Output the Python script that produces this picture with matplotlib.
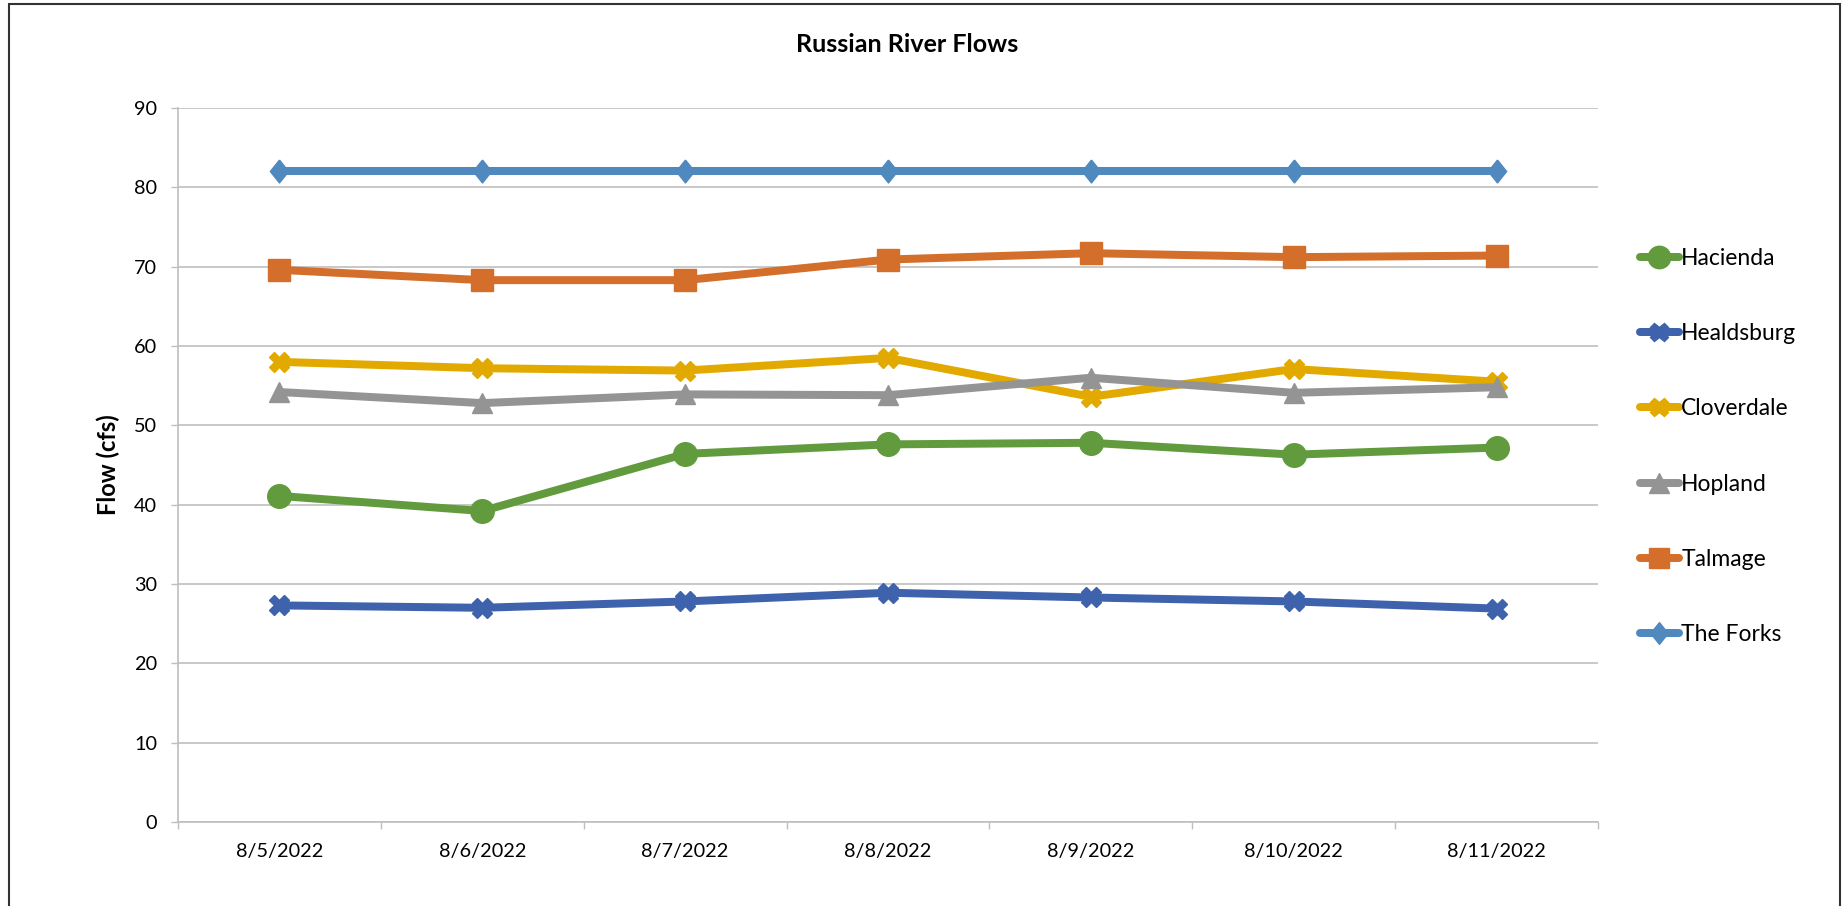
import matplotlib
matplotlib.use("Agg")
import matplotlib.pyplot as plt
from matplotlib.patches import Rectangle
from matplotlib.path import Path

plt.rcParams['font.family'] = ['Lato', 'DejaVu Sans']

dates = ["8/5/2022", "8/6/2022", "8/7/2022", "8/8/2022",
         "8/9/2022", "8/10/2022", "8/11/2022"]

hacienda = [41.1, 39.2, 46.4, 47.6, 47.8, 46.3, 47.2]
healdsburg = [27.3, 27.0, 27.8, 28.9, 28.3, 27.8, 26.9]
cloverdale = [58.0, 57.2, 56.9, 58.5, 53.6, 57.1, 55.5]
hopland = [54.2, 52.8, 53.9, 53.8, 56.0, 54.1, 54.8]
talmage = [69.6, 68.3, 68.3, 70.9, 71.7, 71.2, 71.4]
the_forks = [82, 82, 82, 82, 82, 82, 82]

names = ["Hacienda", "Healdsburg", "Cloverdale", "Hopland", "Talmage", "The Forks"]
series = [hacienda, healdsburg, cloverdale, hopland, talmage, the_forks]

# excel-ish look
diamond = Path([(0, 1), (0.8, 0), (0, -1), (-0.8, 0), (0, 1)])
colors = ["#629B3E", "#3F62AD", "#E2AA00", "#949494", "#D46E2B", "#4F89BD"]
markers = ["o", "X", "X", "^", "s", diamond]
msizes = [17, 14, 14, 15, 15.5, 16.5]

fig = plt.figure(figsize=(18.49, 9.06), dpi=100)
ax = fig.add_axes([178 / 1849, 1 - 822 / 906, (1598 - 178) / 1849, (822 - 108) / 906])

x = list(range(len(dates)))
for name, vals, c, m, ms in zip(names, series, colors, markers, msizes):
    ax.plot(x, vals, color=c, lw=5.75, marker=m, markersize=ms,
            markeredgecolor=c, markerfacecolor=c, label=name,
            solid_joinstyle="round", solid_capstyle="round")

ax.set_xlim(-0.5, len(dates) - 0.5)
ax.set_ylim(0, 90)
ax.set_yticks(range(0, 91, 10))
ax.set_xticks([i - 0.5 for i in range(len(dates) + 1)])
ax.set_xticklabels([])
ax.set_xticks(x, minor=True)
ax.set_xticklabels(dates, minor=True)
ax.tick_params(axis="x", which="major", length=5, color="#BFBFBF", width=1)
ax.tick_params(axis="x", which="minor", length=0, pad=15, labelsize=14.3)
ax.tick_params(axis="y", length=5, color="#BFBFBF", width=1, pad=10, labelsize=14.3)

ax.grid(axis="y", color="#BFBFBF", lw=1.2)
ax.set_axisbelow(True)
for s in ["top", "right"]:
    ax.spines[s].set_visible(False)
for s in ["left", "bottom"]:
    ax.spines[s].set_color("#BFBFBF")
    ax.spines[s].set_linewidth(1.2)

ax.set_ylabel("Flow (cfs)", fontsize=17, fontweight="bold", labelpad=10)
fig.text(907 / 1849, 1 - 44 / 906, "Russian River Flows", ha="center", va="center",
         fontsize=18, fontweight="bold")

fig.legend(loc="center left", bbox_to_anchor=(1640 / 1849, 1 - 446.5 / 906),
           frameon=False, fontsize=16.5, borderpad=0, borderaxespad=0,
           handlelength=1.7, handletextpad=0.1, labelspacing=2.37, markerscale=0.95)

# chart border
fig.patches.append(Rectangle((9.5 / 1849, -0.05), (1840 - 9.5) / 1849, 1.05 - 4 / 906,
                             transform=fig.transFigure, fill=False,
                             edgecolor="#333333", lw=1.5))

fig.savefig("out.png", dpi=100)
